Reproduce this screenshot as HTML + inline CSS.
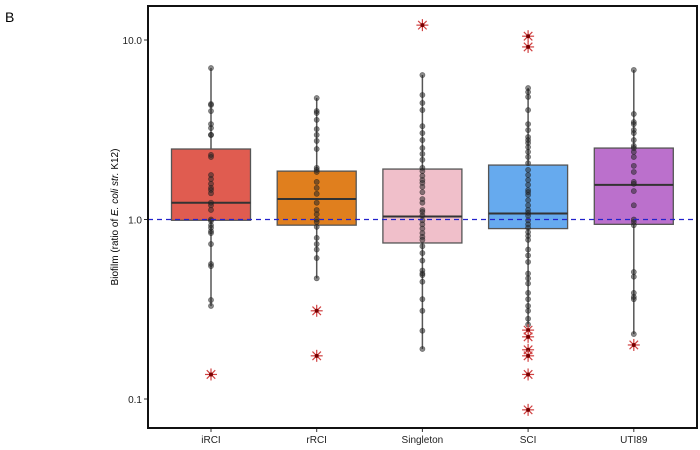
<!DOCTYPE html>
<html><head><meta charset="utf-8"><style>
html,body{margin:0;padding:0;background:#fff;}
svg{display:block;font-family:"Liberation Sans",Arial,sans-serif;}
</style></head><body>
<svg id="chart" width="700" height="450"></svg>
<script>
const categories=["iRCI","rRCI","Singleton","SCI","UTI89"];
const colors=["#e05c50","#e07f1e","#f0bfca","#66aaee","#bb70cc"];
const boxQ1=[0.99,0.93,0.74,0.89,0.94];
const boxMedian=[1.24,1.30,1.04,1.08,1.56];
const boxQ3=[2.47,1.86,1.91,2.01,2.50];
const whiskerLow=[0.33,0.47,0.19,0.26,0.23];
const whiskerHigh=[6.98,4.75,6.38,5.40,6.81];
const outliers=[[0.137],[0.31,0.174],[12.1],[10.5,9.15,0.242,0.222,0.188,0.174,0.137,0.087],[0.20]];
const points=[
[6.98,4.40,4.34,4.02,3.40,3.23,2.96,2.96,2.29,2.23,1.77,1.68,1.58,1.50,1.46,1.40,1.24,1.20,1.13,1.0,0.98,0.93,0.90,0.86,0.84,0.73,0.565,0.55,0.356,0.33],
[4.75,4.02,3.92,3.59,3.19,2.96,2.74,2.47,1.94,1.89,1.84,1.62,1.50,1.39,1.24,1.13,1.07,1.0,0.97,0.91,0.79,0.73,0.68,0.61,0.47],
[6.38,4.94,4.46,4.07,3.31,3.03,2.77,2.50,2.32,2.15,1.94,1.86,1.75,1.66,1.60,1.52,1.42,1.30,1.24,1.13,1.10,1.05,0.99,0.94,0.89,0.84,0.80,0.77,0.71,0.65,0.59,0.52,0.50,0.49,0.45,0.36,0.31,0.24,0.19],
[5.40,5.13,4.82,4.07,3.40,3.15,2.88,2.77,2.67,2.53,2.38,2.23,2.06,1.89,1.77,1.66,1.56,1.46,1.42,1.37,1.28,1.20,1.13,1.09,1.05,0.99,0.94,0.90,0.85,0.81,0.77,0.68,0.63,0.58,0.50,0.47,0.44,0.39,0.36,0.33,0.31,0.28,0.26],
[6.81,3.87,3.49,3.40,3.15,3.03,2.77,2.57,2.50,2.38,2.23,1.99,1.84,1.62,1.58,1.44,1.20,1.0,0.97,0.93,0.51,0.48,0.39,0.37,0.36,0.23]
];
const yTicks=[10,1,0.1];
const yTickLabels=["10.0","1.0","0.1"];
const refValue=1.0;

const NS="http://www.w3.org/2000/svg";
const svg=document.getElementById('chart');
const L=148,R=697,T=6,B=428;
function y(v){return 219.5-179.5*Math.log10(v);}
function x(i){return 211+i*105.7;}
function mk(tag,attrs,parent){const e=document.createElementNS(NS,tag);for(const k in attrs)e.setAttribute(k,attrs[k]);(parent||svg).appendChild(e);return e;}

const lbl=mk('text',{x:5,y:22,'font-size':14,fill:'#000'});lbl.textContent='B';



const yt=mk('text',{transform:'translate(118,217) rotate(-90)','text-anchor':'middle','font-size':10,fill:'#000'});


yt.innerHTML='Biofilm (ratio of <tspan font-style="italic">E. coli str.</tspan> K12)';

yTicks.forEach((t,i)=>{
 const g=mk('g',{});
 
 
 mk('line',{x1:L-4,x2:L,y1:y(t),y2:y(t),stroke:'#333'},g);
 const tx=mk('text',{x:L-6,y:y(t)+4,'text-anchor':'end','font-size':10,fill:'#222'},g);tx.textContent=yTickLabels[i];
});

categories.forEach((c,i)=>{
 const g=mk('g',{});
 
 
 const cx=x(i),hw=39.5;
 mk('line',{x1:cx,x2:cx,y1:y(whiskerHigh[i]),y2:y(boxQ3[i]),stroke:'#555','stroke-width':1.5},g);
 mk('line',{x1:cx,x2:cx,y1:y(boxQ1[i]),y2:y(whiskerLow[i]),stroke:'#555','stroke-width':1.5},g);
 mk('rect',{x:cx-hw,y:y(boxQ3[i]),width:2*hw,height:y(boxQ1[i])-y(boxQ3[i]),fill:colors[i],stroke:'#555','stroke-width':1.3},g);
 mk('line',{x1:cx-hw,x2:cx+hw,y1:y(boxMedian[i]),y2:y(boxMedian[i]),stroke:'#333','stroke-width':2},g);
 points[i].forEach(v=>{
  const p=mk('circle',{cx:cx,cy:y(v),r:2.6,fill:'rgba(40,40,40,0.55)',stroke:'rgba(20,20,20,0.5)','stroke-width':0.6},g);
  
  
 });
 outliers[i].forEach(v=>{
  const o=mk('g',{transform:'translate('+cx+','+y(v)+')'},g);
  
  
  for(let a=0;a<4;a++){const ang=a*Math.PI/4;mk('line',{x1:-6*Math.cos(ang),y1:-6*Math.sin(ang),x2:6*Math.cos(ang),y2:6*Math.sin(ang),stroke:'#d04040','stroke-width':1.2},o);}
  mk('circle',{cx:0,cy:0,r:2,fill:'#7a0000'},o);
 });
 const tk=mk('line',{x1:cx,x2:cx,y1:B,y2:B+4,stroke:'#333'});
 const tl=mk('text',{x:cx,y:B+15,'text-anchor':'middle','font-size':10,fill:'#222'});tl.textContent=c;
 
 
});

const ref=mk('line',{x1:L,x2:R,y1:y(refValue),y2:y(refValue),stroke:'#2222cc','stroke-width':1.3,'stroke-dasharray':'5,4'});



const fr=mk('rect',{x:L,y:T,width:R-L,height:B-T,fill:'none',stroke:'#111','stroke-width':2});


</script>
</body></html>
